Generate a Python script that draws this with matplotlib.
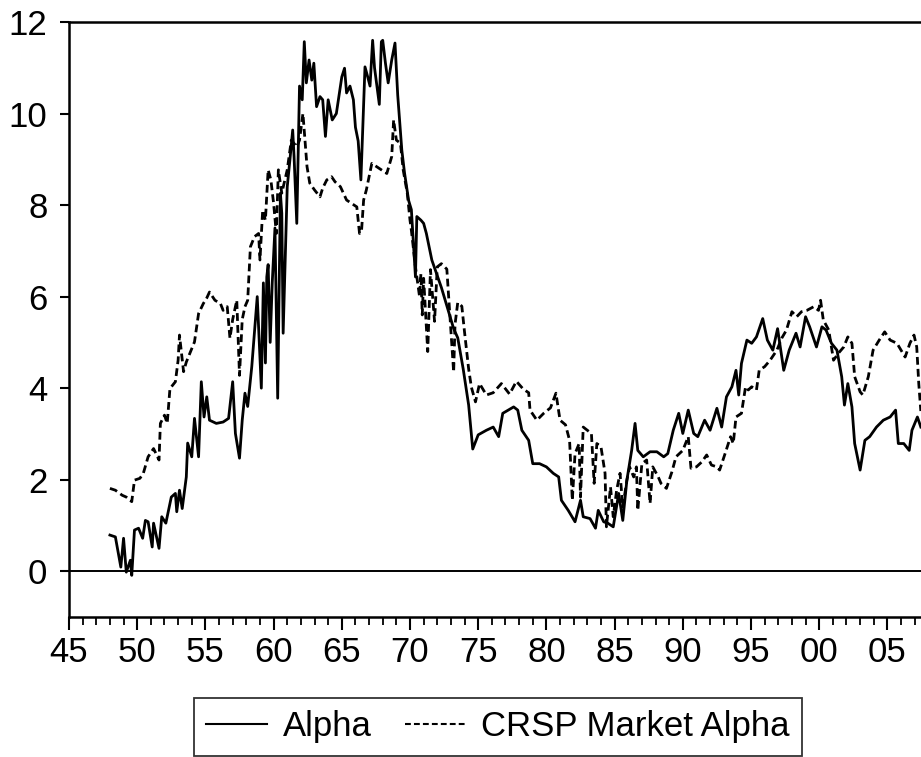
import matplotlib
matplotlib.use("Agg")
import matplotlib.pyplot as plt
from matplotlib.ticker import MultipleLocator, FixedLocator

plt.rcParams['font.family'] = ['Liberation Sans', 'DejaVu Sans']

# Alpha (solid)
alpha_t = [1948.0, 1948.4, 1948.8, 1949.0, 1949.2, 1949.5, 1949.6, 1949.8, 1950.1, 1950.4,
           1950.6, 1950.8, 1951.1, 1951.2, 1951.6, 1951.8, 1952.1, 1952.5, 1952.8, 1952.9,
           1953.1, 1953.3, 1953.6, 1953.7, 1954.0, 1954.2, 1954.5, 1954.7, 1954.9, 1955.1,
           1955.3, 1955.8, 1956.3, 1956.7, 1957.0, 1957.2, 1957.5, 1957.7, 1957.9, 1958.1,
           1958.4, 1958.8, 1959.1, 1959.25, 1959.4, 1959.5, 1959.6, 1959.75, 1959.9, 1960.1,
           1960.3, 1960.5, 1960.6, 1960.7, 1961.0, 1961.2, 1961.4, 1961.5, 1961.7, 1961.9,
           1962.1, 1962.25, 1962.4, 1962.6, 1962.8, 1962.95, 1963.15, 1963.4, 1963.6, 1963.8,
           1964.0, 1964.3, 1964.6, 1965.0, 1965.2, 1965.35, 1965.6, 1965.85, 1966.0, 1966.2,
           1966.4, 1966.7, 1966.9, 1967.07, 1967.26, 1967.4, 1967.75, 1967.9, 1968.0, 1968.2,
           1968.4, 1968.66, 1968.9, 1969.1, 1969.4, 1969.6, 1969.9, 1970.1, 1970.4, 1970.5,
           1970.8, 1971.0, 1971.2, 1971.6, 1971.95, 1972.3, 1972.8, 1973.2, 1973.5, 1973.9,
           1974.3, 1974.6, 1975.0, 1975.6, 1976.1, 1976.5, 1976.8, 1977.6, 1977.9, 1978.2,
           1978.7, 1979.0, 1979.5, 1980.0, 1980.5, 1980.9, 1981.1, 1981.6, 1982.1, 1982.5,
           1982.7, 1983.2, 1983.6, 1983.8, 1984.2, 1984.5, 1984.9, 1985.3, 1985.6, 1985.9,
           1986.25, 1986.5, 1986.7, 1987.1, 1987.6, 1988.1, 1988.6, 1988.9, 1989.3, 1989.7,
           1990.0, 1990.4, 1990.8, 1991.1, 1991.6, 1992.0, 1992.5, 1992.85, 1993.2, 1993.6,
           1993.9, 1994.1, 1994.3, 1994.7, 1995.05, 1995.4, 1995.86, 1996.2, 1996.6, 1996.95,
           1997.4, 1997.8, 1998.3, 1998.6, 1999.0, 1999.3, 1999.8, 2000.2, 2000.5, 2000.9,
           2001.3, 2001.65, 2001.85, 2002.1, 2002.4, 2002.6, 2003.0, 2003.35, 2003.7, 2004.2,
           2004.7, 2005.2, 2005.6, 2005.8, 2006.2, 2006.6, 2006.8, 2007.2, 2007.45]
alpha_v = [0.79, 0.75, 0.09, 0.72, -0.02, 0.24, -0.09, 0.90, 0.94, 0.72,
           1.11, 1.08, 0.53, 1.05, 0.50, 1.19, 1.05, 1.62, 1.70, 1.30,
           1.77, 1.37, 2.06, 2.80, 2.50, 3.34, 2.50, 4.14, 3.37, 3.81,
           3.30, 3.23, 3.26, 3.34, 4.14, 3.01, 2.47, 3.30, 3.89, 3.60,
           4.47, 6.00, 4.00, 6.30, 4.55, 6.43, 6.70, 5.00, 6.30, 7.50,
           3.78, 8.26, 7.82, 5.20, 8.40, 9.00, 9.64, 9.06, 7.60, 10.60,
           10.30, 11.57, 10.67, 11.17, 10.73, 11.10, 10.15, 10.37, 10.30, 9.50,
           10.30, 9.86, 10.00, 10.80, 10.99, 10.45, 10.60, 10.30, 9.70, 9.40,
           8.55, 11.02, 10.80, 10.60, 11.60, 11.00, 10.20, 11.57, 11.60, 11.10,
           10.67, 11.17, 11.54, 10.40, 9.20, 8.70, 8.10, 7.90, 6.43, 7.75,
           7.67, 7.60, 7.38, 6.80, 6.50, 6.20, 5.70, 5.30, 5.10, 4.42,
           3.63, 2.67, 2.98, 3.08, 3.15, 2.94, 3.45, 3.59, 3.52, 3.08,
           2.86, 2.35, 2.35, 2.28, 2.14, 2.06, 1.55, 1.33, 1.08, 1.55,
           1.19, 1.15, 0.94, 1.33, 1.08, 1.05, 0.97, 1.70, 1.11, 1.99,
           2.64, 3.23, 2.64, 2.50, 2.61, 2.61, 2.50, 2.57, 3.08, 3.45,
           3.01, 3.52, 3.01, 2.94, 3.30, 3.08, 3.56, 3.15, 3.81, 4.03,
           4.39, 3.85, 4.54, 5.05, 4.98, 5.12, 5.52, 5.05, 4.83, 5.30,
           4.39, 4.83, 5.20, 4.90, 5.56, 5.34, 4.90, 5.34, 5.27, 4.98,
           4.83, 4.25, 3.63, 4.10, 3.59, 2.79, 2.21, 2.86, 2.94, 3.15,
           3.30, 3.37, 3.52, 2.79, 2.79, 2.64, 3.08, 3.37, 3.15]

# CRSP Market Alpha (dashed)
crsp_t = [1948.0, 1948.4, 1948.9, 1949.2, 1949.6, 1949.8, 1950.2, 1950.45, 1950.8, 1951.2,
          1951.6, 1951.7, 1952.0, 1952.2, 1952.4, 1952.8, 1953.0, 1953.1, 1953.4, 1953.6,
          1953.9, 1954.2, 1954.5, 1954.85, 1955.1, 1955.3, 1955.7, 1956.1, 1956.3, 1956.6,
          1956.8, 1957.0, 1957.3, 1957.5, 1957.7, 1957.9, 1958.1, 1958.3, 1958.6, 1958.9,
          1959.0, 1959.2, 1959.4, 1959.6, 1959.8, 1960.0, 1960.2, 1960.35, 1960.6, 1961.0,
          1961.3, 1961.7, 1961.9, 1962.15, 1962.3, 1962.45, 1962.65, 1963.0, 1963.4, 1963.6,
          1963.9, 1964.25, 1964.5, 1964.9, 1965.35, 1965.7, 1966.1, 1966.3, 1966.45, 1966.6,
          1966.8, 1967.2, 1967.55, 1967.9, 1968.3, 1968.66, 1968.8, 1969.0, 1969.3, 1969.5,
          1969.8, 1970.0, 1970.1, 1970.4, 1970.7, 1970.8, 1970.9, 1971.0, 1971.3, 1971.5,
          1971.8, 1972.0, 1972.3, 1972.7, 1973.2, 1973.3, 1973.5, 1973.8, 1974.0, 1974.3,
          1974.5, 1974.8, 1975.1, 1975.6, 1976.1, 1976.7, 1977.3, 1977.8, 1978.3, 1978.7,
          1978.8, 1979.3, 1979.8, 1980.3, 1980.7, 1981.0, 1981.4, 1981.7, 1981.9, 1982.1,
          1982.4, 1982.5, 1982.7, 1983.0, 1983.3, 1983.5, 1983.7, 1984.0, 1984.3, 1984.4,
          1984.7, 1984.9, 1985.15, 1985.4, 1985.6, 1985.9, 1986.1, 1986.4, 1986.6, 1986.7,
          1987.0, 1987.35, 1987.6, 1987.8, 1988.2, 1988.4, 1988.8, 1989.2, 1989.5, 1990.0,
          1990.4, 1990.6, 1991.0, 1991.4, 1991.75, 1992.1, 1992.5, 1992.7, 1993.1, 1993.5,
          1993.7, 1993.9, 1994.3, 1994.6, 1994.8, 1995.05, 1995.4, 1995.6, 1996.0, 1996.4,
          1996.9, 1997.25, 1997.6, 1998.0, 1998.35, 1998.7, 1999.1, 1999.6, 1999.95, 2000.1,
          2000.3, 2000.7, 2001.05, 2001.4, 2001.8, 2002.1, 2002.4, 2002.6, 2003.0, 2003.2,
          2003.6, 2003.95, 2004.4, 2004.8, 2005.2, 2005.7, 2006.3, 2006.65, 2006.95, 2007.15,
          2007.3, 2007.45]
crsp_v = [1.81, 1.77, 1.66, 1.62, 1.52, 1.99, 2.03, 2.14, 2.50, 2.68,
          2.43, 3.23, 3.41, 3.23, 3.99, 4.14, 4.61, 5.16, 4.36, 4.57,
          4.79, 5.01, 5.63, 5.85, 5.97, 6.10, 5.92, 5.85, 5.70, 5.78,
          5.09, 5.50, 5.92, 4.28, 5.50, 5.78, 5.92, 7.09, 7.31, 7.38,
          6.80, 7.89, 7.67, 8.77, 8.55, 8.04, 7.38, 8.77, 8.26, 8.77,
          9.42, 9.27, 9.42, 10.00, 9.42, 8.84, 8.48, 8.33, 8.18, 8.37,
          8.55, 8.62, 8.51, 8.40, 8.11, 8.04, 7.96, 7.38, 7.45, 8.11,
          8.33, 8.91, 8.84, 8.77, 8.69, 9.06, 9.86, 9.42, 9.35, 8.77,
          8.26, 7.67, 7.45, 6.65, 6.00, 6.50, 5.60, 6.40, 4.80, 6.59,
          5.46, 6.65, 6.72, 6.60, 4.35, 5.39, 5.87, 5.79, 5.22, 4.42,
          4.02, 3.70, 4.10, 3.85, 3.90, 4.10, 3.87, 4.15, 3.98, 3.90,
          3.52, 3.30, 3.45, 3.57, 3.89, 3.30, 3.20, 2.86, 1.55, 2.57,
          2.79, 1.62, 3.15, 3.08, 3.01, 1.92, 2.79, 2.72, 2.14, 0.97,
          1.84, 1.19, 1.77, 2.14, 1.40, 1.99, 2.28, 2.06, 2.28, 1.33,
          2.35, 2.43, 1.48, 2.28, 2.06, 1.92, 1.81, 2.17, 2.50, 2.64,
          2.94, 2.25, 2.28, 2.39, 2.54, 2.32, 2.28, 2.21, 2.57, 2.94,
          2.79, 3.37, 3.45, 4.03, 3.96, 4.03, 3.96, 4.39, 4.47, 4.61,
          4.83, 5.09, 5.27, 5.67, 5.56, 5.67, 5.70, 5.78, 5.70, 5.92,
          5.49, 5.27, 4.61, 4.76, 4.90, 5.12, 4.98, 4.25, 3.92, 3.85,
          4.25, 4.83, 5.05, 5.23, 5.05, 4.98, 4.68, 4.98, 5.16, 4.90,
          4.10, 3.50]

major_years = [1945, 1950, 1955, 1960, 1965, 1970, 1975, 1980, 1985, 1990, 1995, 2000, 2005]
major_labels = ['45', '50', '55', '60', '65', '70', '75', '80', '85', '90', '95', '00', '05']
y_ticks = [0, 2, 4, 6, 8, 10, 12]

W, H = 921, 757
fig = plt.figure(figsize=(W / 100, H / 100), dpi=100)
ax = fig.add_axes([69 / W, 1 - 617 / H, 1 - 69 / W, (617 - 22) / H])

ax.plot(alpha_t, alpha_v, color='black', lw=2.0, label='Alpha')
ax.plot(crsp_t, crsp_v, color='black', lw=2.0, linestyle=(0, (2.8, 1.5)),
        label='CRSP Market Alpha')
ax.axhline(0, color='black', lw=1.4)

ax.set_xlim(1945, 1945 + (W - 69) / 13.64)
ax.set_ylim(-1.0, 12)

ax.xaxis.set_major_locator(FixedLocator(major_years))
ax.set_xticklabels(major_labels)
ax.xaxis.set_minor_locator(MultipleLocator(1))
ax.yaxis.set_major_locator(FixedLocator(y_ticks))
ax.set_yticklabels([str(v) for v in y_ticks])

for s in ['left', 'bottom', 'top']:
    ax.spines[s].set_linewidth(1.8)
ax.spines['right'].set_visible(False)

ax.tick_params(axis='both', which='major', direction='out', labelsize=25,
               width=1.5, color='black')
ax.tick_params(axis='x', which='major', length=9.5, pad=4)
ax.tick_params(axis='x', which='minor', length=5.5, width=1.3, direction='out')
ax.tick_params(axis='y', which='major', length=6.5, pad=9)

leg = fig.legend(loc='lower center', bbox_to_anchor=(498 / W, 1.5 / H), ncol=2,
                 fontsize=25, frameon=True, fancybox=False, handlelength=1.75,
                 handletextpad=0.45, columnspacing=0.95, borderpad=0.35,
                 borderaxespad=0.0)
leg.get_frame().set_edgecolor('black')
leg.get_frame().set_linewidth(1.3)
for line in leg.get_lines():
    line.set_linewidth(1.5)

fig.savefig('out.png', dpi=100)
